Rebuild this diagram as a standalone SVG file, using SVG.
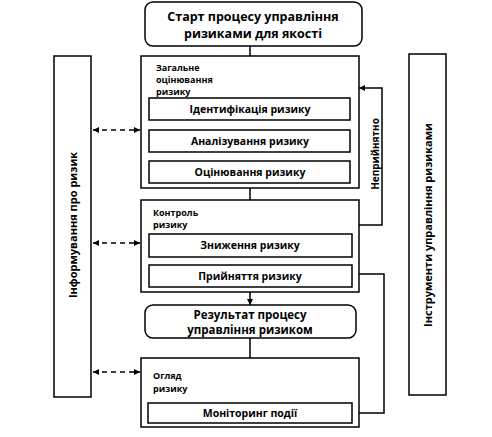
<svg xmlns="http://www.w3.org/2000/svg" width="492" height="437" viewBox="0 0 492 437">
<defs>
<style>
.b{fill:#fff;stroke:#000;stroke-width:1.5}
.l{fill:none;stroke:#000;stroke-width:1.5}
.d{fill:none;stroke:#000;stroke-width:1.3;stroke-dasharray:5 4}
text{font-family:"Open Sans","DejaVu Sans",sans-serif;font-weight:bold;fill:#000}
.t{font-size:12.5px;text-anchor:middle}
.r{font-size:11.5px;text-anchor:middle}
.m{font-size:10.5px;text-anchor:middle}
.s{font-size:9px}
.v{font-size:11px;text-anchor:middle}
</style>
<marker id="a" viewBox="0 0 8 8" refX="8" refY="4" markerWidth="6" markerHeight="6" markerUnits="userSpaceOnUse" orient="auto-start-reverse"><path d="M0,0L8,4L0,8z" fill="#000"/></marker>
</defs>
<rect width="492" height="437" fill="#fff"/>
<g id="connectors">
<line class="l" x1="250" y1="46" x2="250" y2="98" marker-end="url(#a)"/>
<line class="l" x1="250" y1="120" x2="250" y2="130" marker-end="url(#a)"/>
<line class="l" x1="250" y1="152" x2="250" y2="161" marker-end="url(#a)"/>
<line class="l" x1="250" y1="183" x2="250" y2="234" marker-end="url(#a)"/>
<line class="l" x1="250" y1="257" x2="250" y2="265" marker-end="url(#a)"/>
<line class="l" x1="250" y1="287" x2="250" y2="305" marker-end="url(#a)"/>
<line class="l" x1="250" y1="338" x2="250" y2="403" marker-end="url(#a)"/>
<polyline class="l" points="359,225 382,225 382,88 359,88" marker-end="url(#a)"/>
<polyline class="l" points="352,413 384,413 384,274 352,274" marker-end="url(#a)"/>
<line class="d" x1="93" y1="130" x2="140" y2="130" marker-start="url(#a)" marker-end="url(#a)"/>
<line class="d" x1="93" y1="243" x2="140" y2="243" marker-start="url(#a)" marker-end="url(#a)"/>
<line class="d" x1="93" y1="372" x2="140" y2="372" marker-start="url(#a)" marker-end="url(#a)"/>
<text class="v" transform="translate(379,154) rotate(-90)" style="font-size:10px">Неприйнятно</text>
</g>
<g id="start">
<rect class="b" x="145" y="2" width="217" height="44" rx="8"/>
<text class="t" x="253" y="21">Старт процесу управління</text>
<text class="t" x="253" y="38">ризиками для якості</text>
</g>
<g id="assessment">
<rect class="b" x="141" y="56" width="218" height="132"/>
<text class="s" x="156" y="71">Загальне</text>
<text class="s" x="156" y="83">оцінювання</text>
<text class="s" x="156" y="95">ризику</text>
</g>
<g id="identification">
<rect class="b" x="149" y="98" width="201" height="22"/>
<text class="m" x="250" y="113">Ідентифікація ризику</text>
</g>
<g id="analysis">
<rect class="b" x="149" y="130" width="201" height="22"/>
<text class="m" x="250" y="145">Аналізування ризику</text>
</g>
<g id="evaluation">
<rect class="b" x="149" y="161" width="201" height="22"/>
<text class="m" x="250" y="176">Оцінювання ризику</text>
</g>
<g id="control">
<rect class="b" x="141" y="200" width="218" height="92"/>
<text class="s" x="153" y="216">Контроль</text>
<text class="s" x="153" y="228">ризику</text>
</g>
<g id="reduction">
<rect class="b" x="149" y="234" width="203" height="23"/>
<text class="m" x="250" y="249">Зниження ризику</text>
</g>
<g id="acceptance">
<rect class="b" x="149" y="265" width="203" height="22"/>
<text class="m" x="250" y="280">Прийняття ризику</text>
</g>
<g id="result">
<rect class="b" x="145" y="305" width="211" height="33" rx="8"/>
<text class="r" x="250" y="319">Результат процесу</text>
<text class="r" x="250" y="334">управління ризиком</text>
</g>
<g id="review">
<rect class="b" x="141" y="358" width="218" height="69"/>
<text class="s" x="153" y="379">Огляд</text>
<text class="s" x="153" y="392">ризику</text>
</g>
<g id="monitoring">
<rect class="b" x="148" y="403" width="204" height="20"/>
<text class="m" x="250" y="417">Моніторинг події</text>
</g>
<g id="communication">
<rect class="b" x="54" y="56" width="37" height="341"/>
<text class="v" transform="translate(77,225) rotate(-90)">Інформування про ризик</text>
</g>
<g id="tools">
<rect class="b" x="409" y="54" width="37" height="341"/>
<text class="v" transform="translate(432,225) rotate(-90)">Інструменти управління ризиками</text>
</g>
</svg>
